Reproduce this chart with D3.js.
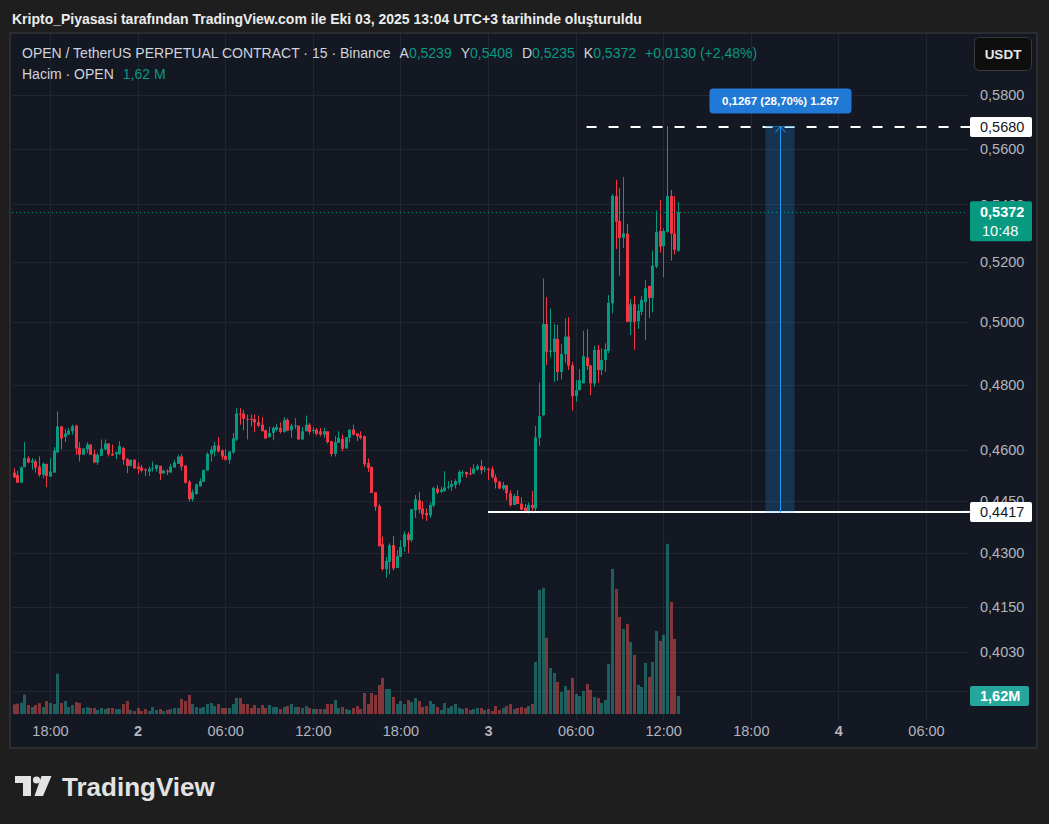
<!DOCTYPE html>
<html>
<head>
<meta charset="utf-8">
<script src="https://cdn.jsdelivr.net/npm/d3@7"></script>
<style>
html, body { margin: 0; padding: 0; background: #1e1e1e; }
svg { display: block; font-family: "Liberation Sans", Arial, sans-serif; }
</style>
</head>
<body>
<svg id="chart" width="1049" height="824"></svg>
<script>
// OPEN/USDT perpetual, 15 min candles, first bar Oct 1 15:30 (UTC+3 wall time)
var startTime = Date.UTC(2025, 9, 1, 15, 30);
var stepMs = 15 * 60 * 1000;

var opens = [
  .4532,.4525,.4502,.4548,.4575,.4562,.4565,.4550,.4525,.4558,
  .4520,.4532,.4592,.4671,.4639,.4646,.4656,.4673,.4606,.4585,
  .4601,.4616,.4587,.4562,.4582,.4601,.4619,.4588,.4587,.4587,
  .4606,.4572,.4552,.4570,.4550,.4547,.4541,.4535,.4544,.4543,
  .4552,.4530,.4536,.4532,.4547,.4558,.4580,.4553,.4505,.4454,
  .4469,.4491,.4505,.4538,.4587,.4595,.4613,.4598,.4582,.4570,
  .4592,.4631,.4710,.4710,.4694,.4694,.4693,.4684,.4676,.4659,
  .4638,.4651,.4661,.4666,.4654,.4691,.4659,.4672,.4673,.4631,
  .4656,.4676,.4658,.4661,.4656,.4646,.4656,.4626,.4588,.4621,
  .4633,.4604,.4636,.4661,.4649,.4643,.4641,.4561,.4549,.4474,
  .4434,.4325,.4255,.4275,.4322,.4258,.4289,.4317,.4353,.4336,
  .4422,.4451,.4427,.4414,.4407,.4435,.4485,.4475,.4478,.4489,
  .4490,.4495,.4502,.4531,.4534,.4530,.4529,.4541,.4551,.4543,
  .4543,.4542,.4518,.4505,.4485,.4495,.4471,.4437,.4463,.4441,
  .4429,.4417,.4437,.4427,.4636,.4705,.4994,.4904,.4904,.4945,
  .4840,.4897,.4953,.4861,.4764,.4783,.4804,.4886,.4861,.4804,
  .4910,.4846,.4878,.4907,.5062,.5430,.5342,.5283,.5298,.5001,
  .5059,.5003,.5034,.5067,.5120,.5080,.5185,.5307,.5255,.5304,
  .5430,.5298,.5239
];
var highs = [
  .4545,.4537,.4550,.4623,.4580,.4575,.4572,.4580,.4562,.4558,
  .4575,.4608,.4717,.4671,.4663,.4666,.4676,.4676,.4623,.4604,
  .4623,.4616,.4601,.4590,.4631,.4631,.4619,.4616,.4595,.4626,
  .4608,.4575,.4570,.4572,.4562,.4555,.4545,.4550,.4565,.4555,
  .4552,.4540,.4542,.4558,.4570,.4585,.4588,.4553,.4510,.4482,
  .4500,.4515,.4540,.4592,.4611,.4623,.4638,.4601,.4601,.4595,
  .4651,.4727,.4727,.4722,.4707,.4707,.4707,.4704,.4699,.4661,
  .4669,.4671,.4679,.4683,.4699,.4696,.4679,.4696,.4673,.4669,
  .4704,.4681,.4669,.4666,.4666,.4666,.4656,.4626,.4641,.4656,
  .4646,.4638,.4661,.4676,.4651,.4656,.4643,.4574,.4549,.4474,
  .4441,.4346,.4289,.4327,.4348,.4308,.4336,.4362,.4360,.4425,
  .4466,.4475,.4448,.4427,.4444,.4490,.4495,.4490,.4536,.4507,
  .4510,.4512,.4539,.4539,.4534,.4547,.4557,.4557,.4569,.4551,
  .4547,.4551,.4527,.4508,.4505,.4495,.4480,.4469,.4480,.4459,
  .4440,.4444,.4478,.4672,.4806,.5145,.5082,.5045,.4994,.4991,
  .4929,.5012,.5016,.4872,.4814,.4849,.4972,.4977,.4861,.4923,
  .4926,.4915,.4931,.5089,.5437,.5487,.5457,.5498,.5331,.5076,
  .5086,.5059,.5086,.5139,.5120,.5239,.5378,.5415,.5316,.5684,
  .5451,.5430,.5408
];
var lows = [
  .4515,.4502,.4502,.4548,.4560,.4540,.4532,.4520,.4515,.4489,
  .4520,.4532,.4592,.4601,.4623,.4646,.4646,.4585,.4565,.4585,
  .4590,.4585,.4560,.4555,.4582,.4599,.4580,.4582,.4572,.4585,
  .4555,.4530,.4550,.4542,.4528,.4532,.4522,.4522,.4535,.4535,
  .4510,.4528,.4525,.4532,.4547,.4558,.4538,.4500,.4447,.4447,
  .4467,.4491,.4505,.4538,.4565,.4580,.4592,.4570,.4568,.4558,
  .4588,.4626,.4676,.4659,.4631,.4671,.4653,.4669,.4656,.4634,
  .4638,.4629,.4656,.4649,.4651,.4656,.4636,.4663,.4631,.4631,
  .4656,.4646,.4649,.4643,.4641,.4636,.4619,.4580,.4580,.4621,
  .4595,.4604,.4623,.4643,.4626,.4631,.4549,.4534,.4472,.4420,
  .4319,.4250,.4231,.4241,.4252,.4258,.4289,.4303,.4300,.4331,
  .4400,.4413,.4396,.4391,.4400,.4430,.4469,.4471,.4475,.4483,
  .4478,.4485,.4495,.4519,.4517,.4524,.4527,.4537,.4527,.4534,
  .4510,.4515,.4485,.4483,.4480,.4451,.4432,.4437,.4440,.4422,
  .4414,.4412,.4415,.4417,.4612,.4702,.4862,.4886,.4809,.4812,
  .4816,.4869,.4846,.4719,.4746,.4781,.4804,.4846,.4767,.4793,
  .4806,.4830,.4840,.4900,.5029,.5245,.5154,.5249,.5001,.4958,
  .4910,.4978,.5023,.4942,.5014,.5032,.5179,.5232,.5149,.5301,
  .5205,.5226,.5235
];
var closes = [
  .4518,.4502,.4548,.4575,.4562,.4568,.4547,.4525,.4558,.4522,
  .4535,.4597,.4671,.4634,.4649,.4658,.4671,.4604,.4585,.4604,
  .4616,.4585,.4562,.4585,.4603,.4619,.4587,.4583,.4592,.4611,
  .4570,.4552,.4570,.4545,.4543,.4538,.4539,.4543,.4546,.4555,
  .4528,.4538,.4534,.4550,.4562,.4580,.4550,.4502,.4454,.4474,
  .4497,.4507,.4540,.4588,.4601,.4613,.4595,.4580,.4570,.4595,
  .4634,.4710,.4707,.4694,.4692,.4692,.4683,.4673,.4656,.4634,
  .4651,.4666,.4669,.4654,.4691,.4658,.4673,.4674,.4631,.4656,
  .4676,.4654,.4660,.4648,.4646,.4656,.4623,.4587,.4623,.4636,
  .4603,.4638,.4661,.4646,.4641,.4636,.4557,.4546,.4472,.4432,
  .4319,.4255,.4278,.4322,.4257,.4291,.4317,.4353,.4336,.4425,
  .4454,.4424,.4410,.4407,.4437,.4487,.4473,.4482,.4488,.4491,
  .4498,.4507,.4534,.4533,.4527,.4528,.4544,.4551,.4539,.4545,
  .4541,.4518,.4503,.4485,.4495,.4471,.4437,.4463,.4440,.4424,
  .4417,.4437,.4429,.4637,.4702,.4994,.4904,.4908,.4947,.4840,
  .4897,.4953,.4860,.4764,.4783,.4814,.4890,.4859,.4804,.4910,
  .4846,.4878,.4912,.5064,.5430,.5339,.5283,.5299,.5001,.5059,
  .5001,.5037,.5073,.5112,.5080,.5188,.5304,.5253,.5307,.5430,
  .5298,.5242,.5372
];
// volume, millions of OPEN
var volumes = [
  0.87,0.93,1.02,1.74,0.81,0.63,0.81,0.99,0.63,1.17,
  0.99,0.90,3.63,0.99,1.17,0.63,0.81,1.08,0.99,0.54,
  0.63,0.54,0.54,0.36,0.54,0.45,0.54,0.54,0.45,0.45,
  0.90,1.17,0.36,0.27,0.54,0.27,0.45,0.27,0.63,0.36,
  0.45,0.27,0.36,0.45,0.54,0.54,1.35,1.17,1.71,0.90,
  0.63,0.54,0.63,0.90,0.99,0.72,0.90,0.54,0.54,0.54,
  0.90,1.44,1.44,0.90,0.90,0.54,0.81,0.54,0.81,0.54,
  0.81,0.63,0.63,0.45,0.63,0.72,0.90,0.63,0.63,0.54,
  0.72,0.54,0.45,0.45,0.45,0.45,0.90,0.90,1.26,0.54,
  0.63,0.45,0.36,0.54,0.72,0.45,1.89,0.90,1.89,1.71,
  2.61,3.24,2.25,2.25,1.53,0.90,1.17,0.90,1.26,1.08,
  1.44,1.17,0.63,0.72,1.17,0.90,0.63,0.36,0.99,0.54,
  0.72,0.90,0.54,0.45,0.54,0.36,0.45,0.54,0.54,0.36,
  0.45,0.27,0.72,0.36,0.54,0.72,0.90,0.45,0.54,0.63,
  0.54,0.72,0.90,4.68,11.16,11.34,6.84,4.14,3.69,2.88,
  1.98,2.52,2.16,3.24,1.80,1.62,2.07,2.70,2.16,1.53,
  1.44,0.99,1.26,4.50,13.05,11.25,8.73,7.65,8.10,6.48,
  5.31,2.61,2.43,4.59,3.33,4.68,7.47,6.57,7.11,15.30,
  10.08,6.75,1.62
];

var priceTicks = [0.58, 0.56, 0.54, 0.52, 0.50, 0.48, 0.46, 0.445, 0.43, 0.415, 0.403, 0.393];
var timeTicks = [
  Date.UTC(2025, 9, 1, 18), Date.UTC(2025, 9, 2, 0), Date.UTC(2025, 9, 2, 6),
  Date.UTC(2025, 9, 2, 12), Date.UTC(2025, 9, 2, 18), Date.UTC(2025, 9, 3, 0),
  Date.UTC(2025, 9, 3, 6), Date.UTC(2025, 9, 3, 12), Date.UTC(2025, 9, 3, 18),
  Date.UTC(2025, 9, 4, 0), Date.UTC(2025, 9, 4, 6)
].map(function(t) { return new Date(t); });

// drawings on the chart
var highLine = {price: 0.5680, from: Date.UTC(2025, 9, 3, 6, 45)};
var lowLine = {price: 0.4417, from: Date.UTC(2025, 9, 3, 0, 0)};
var measure = {from: Date.UTC(2025, 9, 3, 19), to: Date.UTC(2025, 9, 3, 21), low: 0.4415, high: 0.5682};
var timeLeft = "10:48";

var titleText = "Kripto_Piyasasi tarafından TradingView.com ile Eki 03, 2025 13:04 UTC+3 tarihinde oluşturuldu";
var symbolText = "OPEN / TetherUS PERPETUAL CONTRACT · 15 · Binance";

var UP = "#089981", DOWN = "#f23645";
var BG = "#141823", GRID = "#222631", AXIS_TXT = "#b2b5be";

var svg = d3.select("#chart");
var plot = {left: 12, right: 968, top: 34, bottom: 720};

var x = d3.scaleUtc()
  .domain([Date.UTC(2025, 9, 1, 18), Date.UTC(2025, 9, 4, 6)])
  .range([50, 926]);
var y = d3.scaleLog().domain([0.58, 0.43]).range([95, 553]);
var yVol = d3.scaleLinear().domain([0, 16]).range([714, 536]);

var fmtP = function(v) { return v.toFixed(4).replace(".", ","); };

var data = opens.map(function(o, i) {
  return {t: new Date(startTime + i * stepMs), o: o, h: highs[i], l: lows[i], c: closes[i], v: volumes[i]};
});
var last = data.length - 1;

// background + panel
svg.append("rect").attr("width", 1049).attr("height", 824).attr("fill", "#1e1e1e");
svg.append("rect")
  .attr("x", 10).attr("y", 33).attr("width", 1027).attr("height", 715)
  .attr("fill", BG).attr("stroke", "#2c2d31").attr("stroke-width", 2);

svg.append("text")
  .attr("x", 12).attr("y", 24)
  .attr("fill", "#ececec").attr("font-size", 14).attr("font-weight", 600)
  .text(titleText);

svg.append("clipPath").attr("id", "clip")
  .append("rect").attr("x", plot.left).attr("y", plot.top)
  .attr("width", plot.right - plot.left).attr("height", plot.bottom - plot.top);

var chartG = svg.append("g").attr("clip-path", "url(#clip)");

// grid
chartG.selectAll(".hgrid").data(priceTicks).enter().append("line")
  .attr("x1", plot.left).attr("x2", plot.right)
  .attr("y1", function(d) { return Math.round(y(d)) + 0.5; })
  .attr("y2", function(d) { return Math.round(y(d)) + 0.5; })
  .attr("stroke", GRID);
chartG.selectAll(".vgrid").data(timeTicks).enter().append("line")
  .attr("y1", plot.top).attr("y2", plot.bottom)
  .attr("x1", function(d) { return Math.round(x(d)) + 0.5; })
  .attr("x2", function(d) { return Math.round(x(d)) + 0.5; })
  .attr("stroke", GRID);

var stepPx = x(new Date(startTime + stepMs)) - x(new Date(startTime));
var barW = Math.max(1, Math.round(stepPx * 0.8));

// volume
chartG.selectAll(".vol").data(data).enter().append("rect")
  .attr("x", function(d) { return Math.round(x(d.t)) - 1; })
  .attr("width", barW)
  .attr("y", function(d) { return yVol(d.v); })
  .attr("height", function(d) { return yVol(0) - yVol(d.v); })
  .attr("fill", function(d) { return d.c >= d.o ? "rgba(38,166,154,0.5)" : "rgba(239,83,80,0.5)"; });

// candles
var candle = chartG.selectAll(".candle").data(data).enter().append("g");
candle.append("line")
  .attr("x1", function(d) { return Math.round(x(d.t)) + 0.5; })
  .attr("x2", function(d) { return Math.round(x(d.t)) + 0.5; })
  .attr("y1", function(d) { return y(d.h); })
  .attr("y2", function(d) { return y(d.l); })
  .attr("stroke", function(d) { return d.c >= d.o ? UP : DOWN; })
  .attr("stroke-width", 1);
candle.append("rect")
  .attr("x", function(d) { return Math.round(x(d.t)) - 1; })
  .attr("width", barW)
  .attr("y", function(d) { return y(Math.max(d.o, d.c)); })
  .attr("height", function(d) { return Math.max(1, Math.abs(y(d.o) - y(d.c))); })
  .attr("fill", function(d) { return d.c >= d.o ? UP : DOWN; });

// current price line
var yLast = y(data[last].c);
chartG.append("line")
  .attr("x1", plot.left).attr("x2", plot.right)
  .attr("y1", Math.round(yLast) + 0.5).attr("y2", Math.round(yLast) + 0.5)
  .attr("stroke", UP).attr("stroke-dasharray", "1,3");

// horizontal drawings
chartG.append("line")
  .attr("x1", x(new Date(highLine.from))).attr("x2", plot.right)
  .attr("y1", y(highLine.price)).attr("y2", y(highLine.price))
  .attr("stroke", "#ffffff").attr("stroke-width", 2).attr("stroke-dasharray", "10,12");
chartG.append("line")
  .attr("x1", x(new Date(lowLine.from))).attr("x2", plot.right)
  .attr("y1", y(lowLine.price)).attr("y2", y(lowLine.price))
  .attr("stroke", "#ffffff").attr("stroke-width", 2);

// price range measure
var mx0 = x(new Date(measure.from)), mx1 = x(new Date(measure.to));
var my0 = y(measure.high), my1 = y(measure.low);
var mcx = Math.round((mx0 + mx1) / 2) + 0.5;
chartG.append("rect")
  .attr("x", mx0).attr("y", my0).attr("width", mx1 - mx0).attr("height", my1 - my0)
  .attr("fill", "rgba(33,150,243,0.22)");
chartG.append("line")
  .attr("x1", mx0).attr("x2", mx1).attr("y1", my0).attr("y2", my0)
  .attr("stroke", "rgba(33,150,243,0.6)");
chartG.append("line")
  .attr("x1", mcx).attr("x2", mcx).attr("y1", my1).attr("y2", my0)
  .attr("stroke", "#2196f3");
chartG.append("path")
  .attr("d", "M" + (mcx - 5) + "," + (my0 + 6) + "L" + mcx + "," + my0 + "L" + (mcx + 5) + "," + (my0 + 6))
  .attr("fill", "none").attr("stroke", "#2196f3");
var mDiff = measure.high - measure.low;
var mLabel = fmtP(mDiff) + " (" + (mDiff / measure.low * 100).toFixed(2).replace(".", ",") + "%) " +
  d3.format(",")(Math.round(mDiff * 10000)).replace(",", ".");
chartG.append("rect")
  .attr("x", mcx - 71).attr("y", my0 - 38).attr("width", 142).attr("height", 25).attr("rx", 4)
  .attr("fill", "#2079d4");
chartG.append("text")
  .attr("x", mcx).attr("y", my0 - 21.5).attr("text-anchor", "middle")
  .attr("fill", "#ffffff").attr("font-size", 11.5).attr("font-weight", "bold")
  .text(mLabel);

// price axis
var yAxis = d3.axisRight(y).tickValues(priceTicks).tickFormat(fmtP).tickSize(0).tickPadding(12);
var yAxisG = svg.append("g").attr("transform", "translate(" + plot.right + ",0)").call(yAxis);
yAxisG.select(".domain").remove();
yAxisG.selectAll("text").attr("fill", AXIS_TXT).attr("font-size", 14.5)
  .attr("font-family", "\"Liberation Sans\", Arial, sans-serif");

// time axis
var tFmt = function(d) { return d.getUTCHours() === 0 ? String(d.getUTCDate()) : d3.utcFormat("%H:%M")(d); };
var xAxis = d3.axisBottom(x).tickValues(timeTicks).tickFormat(tFmt).tickSize(0).tickPadding(6);
var xAxisG = svg.append("g").attr("transform", "translate(0," + plot.bottom + ")").call(xAxis);
xAxisG.select(".domain").remove();
xAxisG.selectAll("text").attr("fill", AXIS_TXT).attr("font-size", 14.5)
  .attr("font-family", "\"Liberation Sans\", Arial, sans-serif")
  .attr("font-weight", function(d) { return d.getUTCHours() === 0 ? "bold" : "normal"; });

// axis badges
function badge(yc, label, fill, color, h) {
  var g = svg.append("g");
  g.append("rect").attr("x", 970).attr("y", yc - h / 2).attr("width", 62).attr("height", h)
    .attr("rx", 2).attr("fill", fill);
  g.append("text").attr("x", 980).attr("y", yc + 5).attr("fill", color)
    .attr("font-size", 14.5).text(label);
  return g;
}
var yHigh = y(highLine.price);
svg.append("line").attr("x1", 962).attr("x2", 970).attr("y1", yHigh).attr("y2", yHigh)
  .attr("stroke", "#fff").attr("stroke-width", 2);
badge(yHigh, fmtP(highLine.price), "#ffffff", "#131722", 20);
var yLow = y(lowLine.price);
svg.append("line").attr("x1", 962).attr("x2", 970).attr("y1", yLow).attr("y2", yLow)
  .attr("stroke", "#fff").attr("stroke-width", 2);
badge(yLow, fmtP(lowLine.price), "#ffffff", "#131722", 20);

var pb = svg.append("g");
pb.append("rect").attr("x", 970).attr("y", yLast - 11).attr("width", 62).attr("height", 40)
  .attr("rx", 2).attr("fill", UP);
pb.append("text").attr("x", 980).attr("y", yLast + 5).attr("fill", "#fff")
  .attr("font-size", 14.5).attr("font-weight", "bold").text(fmtP(data[last].c));
pb.append("text").attr("x", 982).attr("y", yLast + 23.5).attr("fill", "#fff")
  .attr("font-size", 14.5).text(timeLeft);

var volLabel = data[last].v.toFixed(2).replace(".", ",");
var yv = yVol(data[last].v);
var vb = svg.append("g");
vb.append("rect").attr("x", 970).attr("y", yv - 10).attr("width", 59).attr("height", 20)
  .attr("rx", 2).attr("fill", "#26a69a");
vb.append("text").attr("x", 980).attr("y", yv + 5).attr("fill", "#fff")
  .attr("font-size", 14.5).attr("font-weight", "bold").text(volLabel + "M");

// USDT button
svg.append("rect").attr("x", 974.5).attr("y", 37.5).attr("width", 57).attr("height", 33).attr("rx", 5)
  .attr("fill", "#0e0e0e").attr("stroke", "#3a3a3a");
svg.append("text").attr("x", 1003).attr("y", 59).attr("text-anchor", "middle")
  .attr("fill", "#e6e6e6").attr("font-size", 13.5).attr("font-weight", "bold").text("USDT");

// legend
var legend = svg.append("text").attr("x", 22).attr("y", 58).attr("font-size", 14);
legend.append("tspan").attr("fill", "#d1d4dc").text(symbolText);
[["A", data[last].o], ["Y", data[last].h], ["D", data[last].l], ["K", data[last].c]].forEach(function(p, k) {
  legend.append("tspan").attr("dx", k === 0 ? 9 : 9).attr("fill", "#d1d4dc").text(p[0]);
  legend.append("tspan").attr("fill", UP).text(fmtP(p[1]));
});
var chg = data[last].c - data[last - 1].c;
legend.append("tspan").attr("dx", 9).attr("fill", UP)
  .text((chg >= 0 ? "+" : "") + fmtP(chg) + " (" + (chg >= 0 ? "+" : "") +
    (chg / data[last - 1].c * 100).toFixed(2).replace(".", ",") + "%)");

var legend2 = svg.append("text").attr("x", 22).attr("y", 79).attr("font-size", 14);
legend2.append("tspan").attr("fill", "#d1d4dc").text("Hacim · OPEN");
legend2.append("tspan").attr("dx", 9).attr("fill", UP).text(volLabel + " M");

// footer logo
var logo = svg.append("g").attr("fill", "#e3e3e3");
logo.append("path").attr("d", "M15,776H31V796H23V783H15Z");
logo.append("circle").attr("cx", 36.5).attr("cy", 780).attr("r", 3.6);
logo.append("path").attr("d", "M41.5,776H51.5L43,796H34.5Z");
svg.append("text").attr("x", 62).attr("y", 796)
  .attr("fill", "#e3e3e3").attr("font-size", 26).attr("font-weight", "bold")
  .text("TradingView");
</script>
</body>
</html>
